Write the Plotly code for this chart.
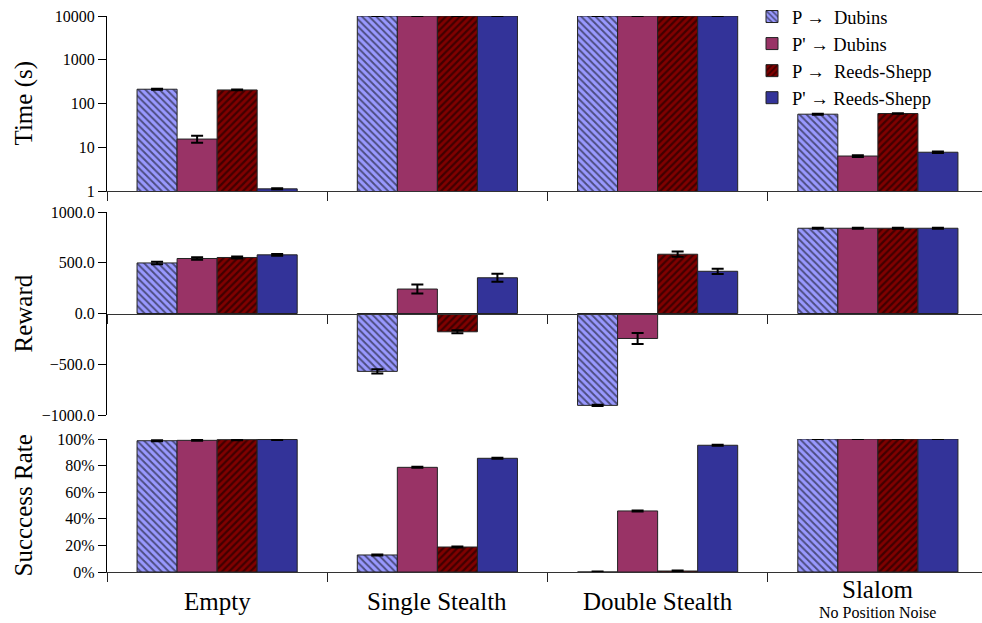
import plotly.graph_objects as go

# ---------------- data ----------------
categories = ["Empty", "Single Stealth", "Double Stealth", "Slalom"]
category_subtitles = ["", "", "", "No Position Noise"]
series_names = ["P \u2192  Dubins", "P' \u2192 Dubins", "P \u2192  Reeds-Shepp", "P' \u2192 Reeds-Shepp"]

time_p_dubins = [212, 10000, 10000, 57]
time_pp_dubins = [15.4, 10000, 10000, 6.3]
time_p_rs = [204, 10000, 10000, 59]
time_pp_rs = [1.12, 10000, 10000, 7.7]
time_err_p_dubins = [6, 60, 60, 1.5]
time_err_pp_dubins = [2.8, 60, 60, 0.3]
time_err_p_rs = [4, 60, 60, 1.0]
time_err_pp_rs = [0.03, 60, 60, 0.3]

reward_p_dubins = [498, -570, -905, 840]
reward_pp_dubins = [542, 241, -246, 840]
reward_p_rs = [552, -180, 584, 840]
reward_pp_rs = [578, 352, 416, 840]
reward_err_p_dubins = [12, 20, 6, 6]
reward_err_pp_dubins = [12, 45, 55, 6]
reward_err_p_rs = [10, 14, 26, 6]
reward_err_pp_rs = [9, 40, 26, 6]

success_p_dubins = [0.987, 0.128, 0.0, 1.0]
success_pp_dubins = [0.990, 0.787, 0.459, 1.0]
success_p_rs = [0.995, 0.188, 0.0075, 1.0]
success_pp_rs = [0.996, 0.855, 0.953, 1.0]
success_err = [0.004, 0.004, 0.004, 0.0]

time_ticks = [1, 10, 100, 1000, 10000]
reward_ticks = [-1000, -500, 0, 500, 1000]
success_ticks = [0, 0.2, 0.4, 0.6, 0.8, 1.0]

# ---------------- styles ----------------
W, H = 982, 623
FONT = "Liberation Serif, Times New Roman, Times, serif"
styles = [
    dict(color="#9999FF", pattern=dict(shape="\\", fgcolor="black", bgcolor="#9999FF", size=5, solidity=0.38)),
    dict(color="#993366", pattern=None),
    dict(color="#800000", pattern=dict(shape="/", fgcolor="black", bgcolor="#800000", size=5, solidity=0.45)),
    dict(color="#333399", pattern=None),
]

def py(px):
    return 1 - px / H

x_left = 107
cat_w = 220.25
x_max = -0.5 + (W - x_left) / cat_w

fig = go.Figure()

panels = [
    ("y", "x", [time_p_dubins, time_pp_dubins, time_p_rs, time_pp_rs],
     [time_err_p_dubins, time_err_pp_dubins, time_err_p_rs, time_err_pp_rs]),
    ("y2", "x2", [reward_p_dubins, reward_pp_dubins, reward_p_rs, reward_pp_rs],
     [reward_err_p_dubins, reward_err_pp_dubins, reward_err_p_rs, reward_err_pp_rs]),
    ("y3", "x3", [success_p_dubins, success_pp_dubins, success_p_rs, success_pp_rs],
     [success_err, success_err, success_err, success_err]),
]

for pi, (ya, xa, vals, errs) in enumerate(panels):
    for si in range(4):
        st = styles[si]
        marker = dict(color=st["color"], line=dict(color="#222222", width=1))
        if st["pattern"] is not None:
            marker["pattern"] = st["pattern"]
        fig.add_trace(go.Bar(
            x=categories, y=vals[si], name=series_names[si],
            xaxis=xa, yaxis=ya, marker=marker,
            error_y=dict(type="data", array=errs[si], color="black", thickness=2, width=6),
            showlegend=(pi == 0), legendgroup=series_names[si],
        ))

common_x = dict(
    type="category", range=[-0.5, x_max], domain=[x_left / W, 1],
    showline=True, linecolor="#333333", linewidth=1.2,
    ticks="outside", tickson="boundaries", ticklen=9, tickcolor="#222222", tickwidth=1.2,
    showticklabels=False, showgrid=False, zeroline=False,
)
common_y = dict(
    showline=True, linecolor="black", linewidth=1.2, ticks="outside", ticklen=8,
    tickcolor="black", tickwidth=1.2, showgrid=False, zeroline=False,
    tickfont=dict(family=FONT, size=16, color="black"),
)

top_dom = [py(191), py(16)]
rew_dom = [py(415), py(212)]
suc_dom = [py(572), py(439)]

fig.update_layout(
    width=W, height=H,
    margin=dict(l=0, r=0, t=0, b=0, autoexpand=False),
    paper_bgcolor="white", plot_bgcolor="rgba(0,0,0,0)",
    barmode="group", bargap=0.273, bargroupgap=0,
    font=dict(family=FONT, color="black"),
    xaxis=dict(common_x, anchor="y"),
    xaxis2=dict(common_x, anchor="free", position=(rew_dom[0] + rew_dom[1]) / 2, matches="x"),
    xaxis3=dict(common_x, anchor="y3", matches="x"),
    yaxis=dict(common_y, type="log", range=[0, 4], domain=top_dom, anchor="x",
               tickvals=time_ticks, ticktext=[str(v) for v in time_ticks]),
    yaxis2=dict(common_y, range=[-1000, 1000], domain=rew_dom, anchor="x2",
                tickvals=reward_ticks, tickformat=".1f"),
    yaxis3=dict(common_y, range=[0, 1], domain=suc_dom, anchor="x3",
                tickvals=success_ticks, tickformat=".0%"),
    legend=dict(x=752 / W, y=1.0 + 2 / H, xanchor="left", yanchor="top",
                bgcolor="rgba(0,0,0,0)", font=dict(family=FONT, size=18.5, color="black"),
                tracegroupgap=0),
)

# axis titles
for title, dom in [("Time (s)", top_dom), ("Reward", rew_dom), ("Succcess Rate", suc_dom)]:
    fig.add_annotation(text=title, xref="paper", yref="paper", x=23 / W, y=(dom[0] + dom[1]) / 2,
                       textangle=-90, showarrow=False, xanchor="center", yanchor="middle",
                       font=dict(family=FONT, size=25, color="black"))

# category labels
for i, (cat, sub) in enumerate(zip(categories, category_subtitles)):
    if sub:
        fig.add_annotation(text=cat, xref="x3", yref="paper", x=i, y=py(589), showarrow=False,
                           xanchor="center", yanchor="middle", font=dict(family=FONT, size=25, color="black"))
        fig.add_annotation(text=sub, xref="x3", yref="paper", x=i, y=py(612), showarrow=False,
                           xanchor="center", yanchor="middle", font=dict(family=FONT, size=16, color="black"))
    else:
        fig.add_annotation(text=cat, xref="x3", yref="paper", x=i, y=py(601), showarrow=False,
                           xanchor="center", yanchor="middle", font=dict(family=FONT, size=25, color="black"))

fig.write_html("out.html")
